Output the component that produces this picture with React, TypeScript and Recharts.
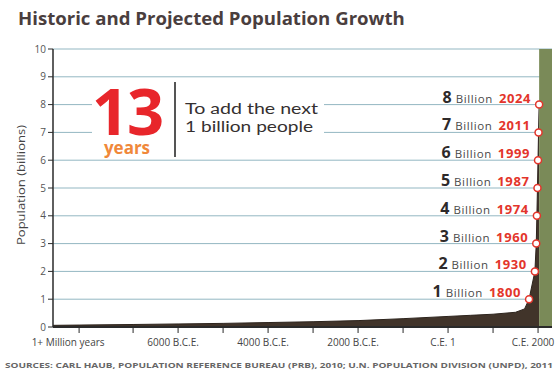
import React from 'react';
import {
  ComposedChart,
  Area,
  Line,
  XAxis,
  YAxis,
  CartesianGrid,
  ReferenceArea
} from 'recharts';

// population curve (billions) by year, negative = B.C.E.
const years = [-8780, -8200, -7000, -6000, -5000, -4000, -3000, -2000, -1000, 0, 500, 1000, 1500, 1700, 1800, 1930, 1960, 1974, 1987, 1999, 2011, 2024];
const billions = [0.06, 0.07, 0.09, 0.11, 0.13, 0.16, 0.19, 0.23, 0.3, 0.38, 0.42, 0.46, 0.53, 0.65, 1, 2, 3, 4, 5, 6, 7, 8];

// milestones: the year each billion was reached
const milestoneYears = [1800, 1930, 1960, 1974, 1987, 1999, 2011, 2024];
const milestoneBillions = [1, 2, 3, 4, 5, 6, 7, 8];

// x axis ticks
const xLabelYears = [-8200, -6000, -4000, -2000, 0, 2000];
const xLabels = ['1+ Million years', '6000 B.C.E.', '4000 B.C.E.', '2000 B.C.E.', 'C.E. 1', 'C.E. 2000'];
const xMinorYears = [-7000, -5000, -3000, -1000, 1000];
const yTicks = [0, 1, 2, 3, 4, 5, 6, 7, 8, 9, 10];

const X_MIN = -8780;
const X_MAX = 2310;
const PROJECTION_START = 2024;

const data = years.map((year, i) => {
  const m = milestoneYears.indexOf(year);
  return {
    year,
    pop: billions[i],
    milestone: m >= 0 ? milestoneBillions[m] : null
  };
});

const FONT = '"Open Sans", "Liberation Sans", sans-serif';

const renderXTick = (props: any) => {
  const { x, y, payload } = props;
  const idx = xLabelYears.indexOf(payload.value);
  if (idx < 0) return <g />;
  const dx = idx === 0 ? -11 : -5;
  return (
    <text x={x + dx} y={y + 11} textAnchor="middle" fontSize={10} fill="#444" fontFamily={FONT}>
      {xLabels[idx]}
    </text>
  );
};

const renderMilestone = (props: any) => {
  const { cx, cy, payload, index } = props;
  if (payload == null || payload.milestone == null || cx == null || cy == null) {
    return <g key={`m-${index}`} />;
  }
  return (
    <g key={`m-${index}`}>
      <text x={cx - 8} y={cy - 2} textAnchor="end" fontFamily={FONT}>
        <tspan fontSize={16} fontWeight={700} fill="#2e2a2a">{payload.milestone}</tspan>
        <tspan fontSize={11.5} fill="#4a4a4a" dx={4} letterSpacing={0.6}>Billion</tspan>
        <tspan fontSize={13} fontWeight={700} fill="#e3352b" dx={6} letterSpacing={0.6}>{payload.year}</tspan>
      </text>
      <circle cx={cx} cy={cy} r={3.5} fill="#fff" stroke="#e3352b" strokeWidth={1.5} />
    </g>
  );
};

export default function App() {
  return (
    <div style={{ position: 'absolute', left: 0, top: 0, width: 558, height: 373, background: '#fff', fontFamily: FONT }}>
      <ComposedChart
        width={558}
        height={373}
        data={data}
        margin={{ top: 49, right: 6, left: 20, bottom: 16 }}
      >
        <CartesianGrid horizontal vertical={false} stroke="#93b7c2" strokeWidth={1} />
        <XAxis
          dataKey="year"
          type="number"
          domain={[X_MIN, X_MAX]}
          ticks={[...xLabelYears, ...xMinorYears].sort((a, b) => a - b)}
          tick={renderXTick}
          tickSize={6}
          height={30}
          axisLine={{ stroke: '#2a2a2a', strokeWidth: 2 }}
          tickLine={{ stroke: '#2a2a2a' }}
          allowDataOverflow
        />
        <YAxis
          type="number"
          domain={[0, 10]}
          ticks={yTicks}
          width={33}
          tickSize={5}
          axisLine={{ stroke: '#2a2a2a', strokeWidth: 1.5 }}
          tickLine={{ stroke: '#2a2a2a' }}
          tick={{ fontSize: 10, fill: '#555', fontFamily: FONT }}
          allowDataOverflow
        />
        <Area
          type="linear"
          dataKey="pop"
          stroke="#2d241d"
          strokeWidth={1}
          fill="#41342a"
          fillOpacity={1}
          isAnimationActive={false}
        />
        <ReferenceArea
          x1={PROJECTION_START}
          x2={X_MAX}
          y1={0}
          y2={10}
          fill="#7a8a58"
          fillOpacity={1}
          stroke="none"
          ifOverflow="hidden"
        />
        <Line
          dataKey="milestone"
          stroke="none"
          dot={renderMilestone}
          activeDot={false}
          connectNulls
          isAnimationActive={false}
        />
      </ComposedChart>

      <svg width={558} height={373} style={{ position: 'absolute', left: 0, top: 0, pointerEvents: 'none' }}>
        <text x={18} y={25} fontSize={18.6} fontWeight={700} fill="#4a3e3e" fontFamily={FONT}>
          Historic and Projected Population Growth
        </text>
        <text
          x={25}
          y={185}
          transform="rotate(-90 25 185)"
          textAnchor="middle"
          fontSize={10.5}
          fill="#444"
          fontFamily={FONT}
          textLength={120}
          lengthAdjust="spacingAndGlyphs"
        >
          Population (billions)
        </text>

        {/* callout box */}
        <rect x={92} y={80} width={232} height={78} fill="#fff" />
        <text x={127} y={135} textAnchor="middle" fontSize={65} fontWeight={700} fill="#e8262b" fontFamily={FONT} letterSpacing={-2}>
          13
        </text>
        <text x={127} y={154} textAnchor="middle" fontSize={17} fontWeight={700} fill="#f0883a" fontFamily={FONT}>
          years
        </text>
        <line x1={175} y1={82} x2={175} y2={157} stroke="#555" strokeWidth={2} />
        <text x={185} y={114} fontSize={14.8} fill="#353030" fontFamily="Lato, sans-serif" textLength={133} lengthAdjust="spacingAndGlyphs">To add the next</text>
        <text x={185} y={132} fontSize={14.8} fill="#353030" fontFamily="Lato, sans-serif" textLength={128} lengthAdjust="spacingAndGlyphs">1 billion people</text>

        <text x={5} y={368} fontSize={7.5} fontWeight={700} fill="#666" fontFamily={FONT} textLength={548} lengthAdjust="spacingAndGlyphs">
          SOURCES: CARL HAUB, POPULATION REFERENCE BUREAU (PRB), 2010; U.N. POPULATION DIVISION (UNPD), 2011
        </text>
      </svg>
    </div>
  );
}
